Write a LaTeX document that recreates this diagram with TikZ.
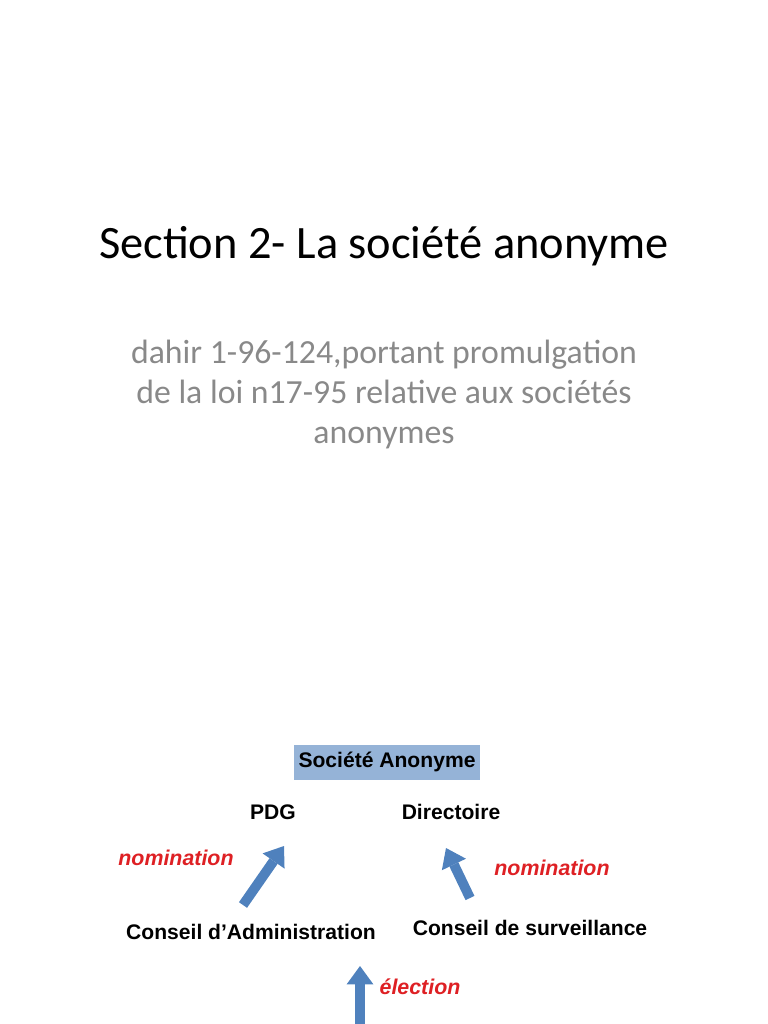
\documentclass[tikz,border=0pt]{standalone}
\usepackage{fontspec}
\setmainfont{Carlito}
\newfontfamily\diagfont{Liberation Sans}
\usetikzlibrary{arrows.meta}

\definecolor{boxblue}{RGB}{149,179,215}
\definecolor{arrowblue}{RGB}{79,129,189}
\definecolor{labelred}{RGB}{222,32,36}
\definecolor{subgray}{RGB}{137,137,137}

\begin{document}
\begin{tikzpicture}[x=0.025cm,y=-0.025cm,
        titre/.style={font=\fontsize{33}{40}\selectfont,anchor=base,inner sep=0pt},
        soustitre/.style={font=\fontsize{24}{28.4}\selectfont,text=subgray,anchor=base,inner sep=0pt},
        organe/.style={font=\diagfont\bfseries\fontsize{15}{17}\selectfont,inner sep=0pt},
        societe/.style={organe,fill=boxblue,minimum width=4.625cm,minimum height=0.875cm},
        lien/.style={font=\diagfont\bfseries\itshape\fontsize{15.2}{17}\selectfont,text=labelred,inner sep=0pt},
        fleche/.style={color=arrowblue,line width=7pt,-{Triangle[width=19pt,length=13pt,line width=0pt]}}]

        \useasboundingbox (0,0) rectangle (768,1024);

        \node[titre] (titre) at (384,258) {Section 2- La société anonyme};
        \node[soustitre] (dahir1) at (384,363) {dahir 1-96-124,portant promulgation};
        \node[soustitre] (dahir2) at (384,403) {de la loi n17-95 relative aux sociétés};
        \node[soustitre] (dahir3) at (384,443) {anonymes};

        \node[societe] (SA) at (387,762) {Société Anonyme};
        \node[organe] (PDG) at (273,812) {PDG};
        \node[organe] (DIR) at (451,812) {Directoire};
        \node[organe] (CA) at (251,932) {Conseil d’Administration};
        \node[organe] (CS) at (530,928) {Conseil de surveillance};

        \node[lien] (nomCA) at (176,858) {nomination};
        \node[lien] (nomCS) at (552,868) {nomination};
        \node[lien] (elec) at (420,987) {élection};

        \coordinate (CAbas) at (243,905);
        \coordinate (PDGhaut) at (284,846);
        \coordinate (CSbas) at (470,898);
        \coordinate (DIRhaut) at (446,848);
        \coordinate (AGbas) at (360,1024);
        \coordinate (CAhaut) at (360,966);

        \path[fleche]
                  (CAbas) edge [] (PDGhaut)
                  (CSbas) edge [] (DIRhaut)
                  (AGbas) edge [] (CAhaut);
\end{tikzpicture}
\end{document}
